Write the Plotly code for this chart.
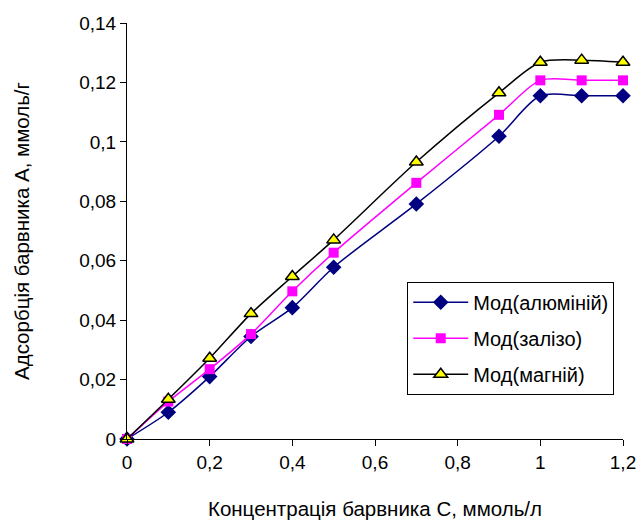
import plotly.graph_objects as go

conc = [0, 0.1, 0.2, 0.3, 0.4, 0.5, 0.7, 0.9, 1.0, 1.1, 1.2]
al = [0, 0.0090, 0.0210, 0.0345, 0.0442, 0.0578, 0.0791, 0.1019, 0.1155, 0.1155, 0.1155]
fe = [0, 0.0126, 0.0235, 0.0353, 0.0497, 0.0627, 0.0862, 0.1091, 0.1207, 0.1207, 0.1207]
mg = [0, 0.0134, 0.0272, 0.0422, 0.0547, 0.0670, 0.0932, 0.1165, 0.1268, 0.1275, 0.1268]

names = ["Мод(алюміній)", "Мод(залізо)", "Мод(магній)"]

fig = go.Figure()
fig.add_trace(go.Scatter(
    x=conc, y=al, name=names[0], mode="lines+markers", legendgroup="a",
    line=dict(color="#000080", width=1.5, shape="spline", smoothing=0.8),
    marker=dict(symbol="diamond", size=12, color="#000080", line=dict(color="#000080", width=0)),
    cliponaxis=False))
fig.add_trace(go.Scatter(
    x=conc, y=fe, name=names[1], mode="lines+markers", legendgroup="b",
    line=dict(color="#FF00FF", width=1.5, shape="spline", smoothing=0.8),
    marker=dict(symbol="square", size=10, color="#FF00FF", line=dict(color="#FF00FF", width=0)),
    cliponaxis=False))
fig.add_trace(go.Scatter(
    x=conc, y=mg, name=names[2], mode="lines+markers", legendgroup="c",
    line=dict(color="#000000", width=1.5, shape="spline", smoothing=0.8),
    marker=dict(symbol="triangle-up", size=12, color="#FFFF00", line=dict(color="#000000", width=1.5)),
    cliponaxis=False))

fig.update_layout(
    width=639, height=524,
    margin=dict(l=127, r=16, t=23, b=85),
    paper_bgcolor="white", plot_bgcolor="white",
    separators=", ",
    font=dict(family="Liberation Sans, Arial, sans-serif", size=19, color="black"),
    showlegend=True,
    legend=dict(
        x=0.565, y=0.378, xanchor="left", yanchor="top",
        bordercolor="black", borderwidth=1, bgcolor="white",
        font=dict(size=20), itemwidth=55, tracegroupgap=7,
    ),
    xaxis=dict(
        range=[0, 1.2], dtick=0.2, tick0=0,
        showline=True, linecolor="black", linewidth=1,
        ticks="outside", ticklen=6, tickcolor="black",
        showgrid=False, zeroline=False, automargin=False,
        title=dict(text="Концентрація барвника С, ммоль/л", standoff=29, font=dict(size=20.5)),
    ),
    yaxis=dict(
        range=[0, 0.14], dtick=0.02, tick0=0,
        showline=True, linecolor="black", linewidth=1,
        ticks="outside", ticklen=6, tickcolor="black",
        showgrid=False, zeroline=False, automargin=False,
        title=dict(text="Адсорбція барвника А, ммоль/г", standoff=44, font=dict(size=20.5)),
    ),
)

fig.write_html("out.html", config={"displayModeBar": False},
               post_script="document.body.style.margin='0';")
